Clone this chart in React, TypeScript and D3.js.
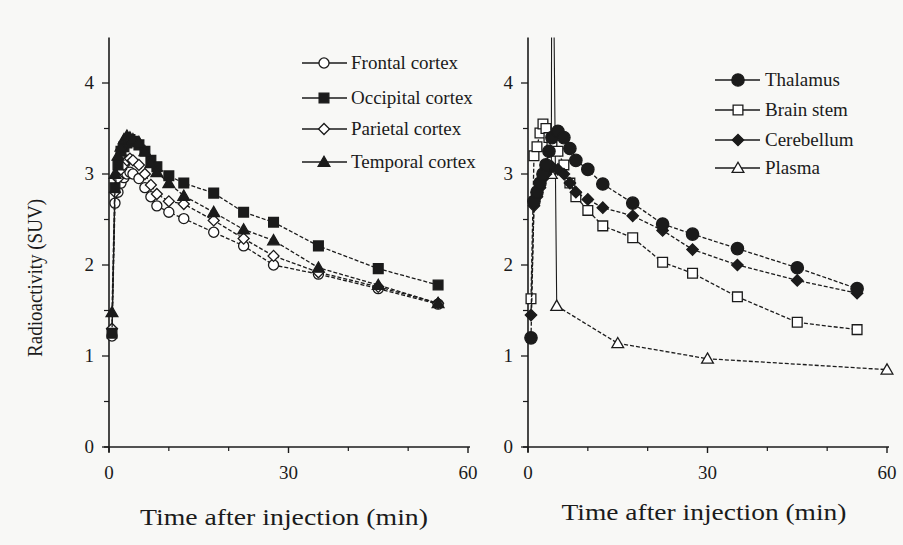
import React from "react";
import * as d3 from "d3";

// ---- data ----
const leftTimes = [0.5, 1, 1.5, 2, 2.5, 3, 3.5, 4, 5, 6, 7, 8, 10, 12.5, 17.5, 22.5, 27.5, 35, 45, 55];
const frontal = [1.22, 2.68, 2.8, 2.9, 2.96, 3.0, 3.02, 3.0, 2.95, 2.85, 2.75, 2.65, 2.58, 2.51, 2.36, 2.21, 2.0, 1.9, 1.74, 1.57];
const occipital = [1.25, 2.85, 3.1, 3.25, 3.3, 3.34, 3.38, 3.36, 3.32, 3.25, 3.15, 3.08, 2.98, 2.9, 2.79, 2.58, 2.47, 2.21, 1.96, 1.78];
const parietal = [1.3, 2.8, 2.95, 3.05, 3.1, 3.15, 3.17, 3.15, 3.1, 3.0, 2.88, 2.78, 2.7, 2.67, 2.49, 2.29, 2.1, 1.92, 1.76, 1.58];
const temporal = [1.48, 3.0, 3.2, 3.3, 3.38, 3.42, 3.4, 3.38, 3.35, 3.25, 3.12, 3.02, 2.9, 2.76, 2.58, 2.39, 2.27, 1.97, 1.78, 1.58];

const rightTimes = [0.5, 1, 1.5, 2, 2.5, 3, 3.5, 4, 5, 6, 7, 8, 10, 12.5, 17.5, 22.5, 27.5, 35, 45, 55];
const thalamus = [1.2, 2.7, 2.8, 2.9, 3.0, 3.1, 3.25, 3.4, 3.47, 3.4, 3.28, 3.15, 3.05, 2.89, 2.68, 2.45, 2.34, 2.18, 1.97, 1.74];
const brainStem = [1.63, 3.2, 3.3, 3.45, 3.55, 3.5, 3.4, 3.3, 3.25, 3.1, 2.9, 2.75, 2.6, 2.43, 2.3, 2.03, 1.91, 1.65, 1.37, 1.29];
const cerebellum = [1.45, 2.65, 2.75, 2.85, 2.95, 3.0, 3.05, 3.08, 3.05, 3.0, 2.9, 2.8, 2.72, 2.63, 2.54, 2.38, 2.17, 2.0, 1.83, 1.69];
const plasmaTimes = [3.9, 4.0, 4.8, 15, 30, 60];
const plasma = [3.0, 7.0, 1.55, 1.14, 0.97, 0.85];

const leftNames = ["Frontal cortex", "Occipital cortex", "Parietal cortex", "Temporal cortex"];
const rightNames = ["Thalamus", "Brain stem", "Cerebellum", "Plasma"];

const yMajor = [0, 1, 2, 3, 4];
const yMinor = [0.5, 1.5, 2.5, 3.5];
const xMajor = [0, 30, 60];
const xMinor = [10, 20, 40, 50];

// ---- layout ----
const W = 903, H = 545;
const yScale = d3.scaleLinear().domain([0, 4.5]).range([447, 37.5]);
const xL = d3.scaleLinear().domain([0, 60]).range([109, 468]);
const xR = d3.scaleLinear().domain([0, 60]).range([528, 887]);

const INK = "#1b1b1b";
const FONT = "'Liberation Serif', 'Times New Roman', Times, 'Nimbus Roman', FreeSerif, serif";
const txt = { fontFamily: FONT };

type Style = { shape: string; filled: boolean; size: number };

function symPath(st: Style) {
  const t =
    st.shape === "circle" ? d3.symbolCircle :
    st.shape === "triangle" ? d3.symbolTriangle :
    d3.symbolSquare;
  return d3.symbol().type(t).size(st.size)() as string;
}

function Marker({ x, y, st }: { x: number; y: number; st: Style }) {
  const rot = st.shape === "diamond" ? " rotate(45)" : "";
  const dy = st.shape === "triangle" ? 1 : 0;
  return (
    <path
      d={symPath(st)}
      transform={`translate(${x},${y + dy})${rot}`}
      fill={st.filled ? INK : "#fff"}
      stroke={INK}
      strokeWidth={1.3}
    />
  );
}

const leftStyles: Style[] = [
  { shape: "circle", filled: false, size: 80 },
  { shape: "square", filled: true, size: 95 },
  { shape: "diamond", filled: false, size: 60 },
  { shape: "triangle", filled: true, size: 60 },
];
const rightStyles: Style[] = [
  { shape: "circle", filled: true, size: 120 },
  { shape: "square", filled: false, size: 95 },
  { shape: "diamond", filled: true, size: 65 },
  { shape: "triangle", filled: false, size: 60 },
];

function Series({ xs, ys, xScale, st, clip, solidUntil = 0 }: { xs: number[]; ys: number[]; xScale: any; st: Style; clip: string; solidUntil?: number }) {
  const pts: [number, number][] = xs.map((t, i) => [xScale(t), yScale(ys[i])]);
  const line = d3.line();
  const solidPts = pts.slice(0, solidUntil + 1);
  const dashPts = pts.slice(solidUntil);
  return (
    <g clipPath={`url(#${clip})`}>
      {solidUntil > 0 && (
        <path d={line(solidPts) as string} fill="none" stroke={INK} strokeWidth={1.1} />
      )}
      <path d={line(dashPts) as string} fill="none" stroke={INK} strokeWidth={1.3} strokeDasharray="4 2" />
      {pts.map((p, i) => (
        <Marker key={i} x={p[0]} y={p[1]} st={st} />
      ))}
    </g>
  );
}

function Axes({ xScale, titleX, titleY, titleLen }: { xScale: any; titleX: number; titleY: number; titleLen: number }) {
  const x0 = xScale(0);
  const y0 = yScale(0);
  return (
    <g>
      <line x1={x0} x2={x0} y1={yScale(4.5)} y2={y0 + 5} stroke={INK} strokeWidth={1.6} />
      <line x1={x0 - 5} x2={xScale(60) + 2} y1={y0} y2={y0} stroke={INK} strokeWidth={1.6} />
      {yMajor.map((v) => (
        <g key={"ym" + v}>
          <line x1={x0 - 7} x2={x0} y1={yScale(v)} y2={yScale(v)} stroke={INK} strokeWidth={1.3} />
          <text x={x0 - 15} y={yScale(v) + 6} textAnchor="end" fontSize={19} style={txt} fill={INK}>
            {v}
          </text>
        </g>
      ))}
      {yMinor.map((v) => (
        <line key={"yn" + v} x1={x0 - 5} x2={x0} y1={yScale(v)} y2={yScale(v)} stroke={INK} strokeWidth={1.2} />
      ))}
      {xMajor.map((v) => (
        <g key={"xm" + v}>
          <line x1={xScale(v)} x2={xScale(v)} y1={y0} y2={y0 + 6} stroke={INK} strokeWidth={1.4} />
          <text x={xScale(v)} y={y0 + 32} textAnchor="middle" fontSize={19} style={txt} fill={INK}>
            {v}
          </text>
        </g>
      ))}
      {xMinor.map((v) => (
        <line key={"xn" + v} x1={xScale(v)} x2={xScale(v)} y1={y0} y2={y0 + 4} stroke={INK} strokeWidth={1.2} />
      ))}
      <text
        x={titleX}
        y={titleY}
        textAnchor="middle"
        fontSize={23}
        style={txt}
        fill={INK}
        textLength={titleLen}
        lengthAdjust="spacingAndGlyphs"
      >
        Time after injection (min)
      </text>
    </g>
  );
}

function Legend({ names, styles, lineX1, lineX2, markX, textX, rowY }: any) {
  return (
    <g>
      {names.map((n: string, i: number) => (
        <g key={n}>
          <line x1={lineX1} x2={lineX2} y1={rowY[i]} y2={rowY[i]} stroke={INK} strokeWidth={1.3} />
          <Marker x={markX} y={rowY[i]} st={styles[i]} />
          <text x={textX} y={rowY[i] + 6} fontSize={19} style={txt} fill={INK}>
            {n}
          </text>
        </g>
      ))}
    </g>
  );
}

export default function App() {
  const plotTop = yScale(4.5);
  return (
    <svg
      width={W}
      height={H}
      viewBox={`0 0 ${W} ${H}`}
      style={{ position: "absolute", left: 0, top: 0, display: "block" }}
    >
      <defs>
        <clipPath id="clipL">
          <rect x={xL(0) - 10} y={plotTop} width={xL(60) - xL(0) + 20} height={yScale(0) - plotTop + 10} />
        </clipPath>
        <clipPath id="clipR">
          <rect x={xR(0) - 10} y={plotTop} width={xR(60) - xR(0) + 20} height={yScale(0) - plotTop + 10} />
        </clipPath>
      </defs>
      <rect x={0} y={0} width={W} height={H} fill="#f8f8f6" />

      {/* Left panel */}
      <Axes xScale={xL} titleX={284} titleY={525} titleLen={288} />
      <text
        transform={`translate(42,278) rotate(-90)`}
        textAnchor="middle"
        fontSize={20}
        style={txt}
        fill={INK}
        textLength={158}
        lengthAdjust="spacingAndGlyphs"
      >
        Radioactivity (SUV)
      </text>
      <Series xs={leftTimes} ys={frontal} xScale={xL} st={leftStyles[0]} clip="clipL" />
      <Series xs={leftTimes} ys={parietal} xScale={xL} st={leftStyles[2]} clip="clipL" />
      <Series xs={leftTimes} ys={occipital} xScale={xL} st={leftStyles[1]} clip="clipL" />
      <Series xs={leftTimes} ys={temporal} xScale={xL} st={leftStyles[3]} clip="clipL" />
      <Legend
        names={leftNames}
        styles={leftStyles}
        lineX1={302}
        lineX2={347}
        markX={324}
        textX={351}
        rowY={[63, 98, 129, 162]}
      />

      {/* Right panel */}
      <Axes xScale={xR} titleX={704} titleY={520} titleLen={285} />
      <Series xs={plasmaTimes} ys={plasma} xScale={xR} st={rightStyles[3]} clip="clipR" solidUntil={2} />
      <Series xs={rightTimes} ys={brainStem} xScale={xR} st={rightStyles[1]} clip="clipR" />
      <Series xs={rightTimes} ys={cerebellum} xScale={xR} st={rightStyles[2]} clip="clipR" />
      <Series xs={rightTimes} ys={thalamus} xScale={xR} st={rightStyles[0]} clip="clipR" />
      <Legend
        names={rightNames}
        styles={rightStyles}
        lineX1={715}
        lineX2={760}
        markX={738}
        textX={765}
        rowY={[80, 110, 140, 168]}
      />
    </svg>
  );
}
